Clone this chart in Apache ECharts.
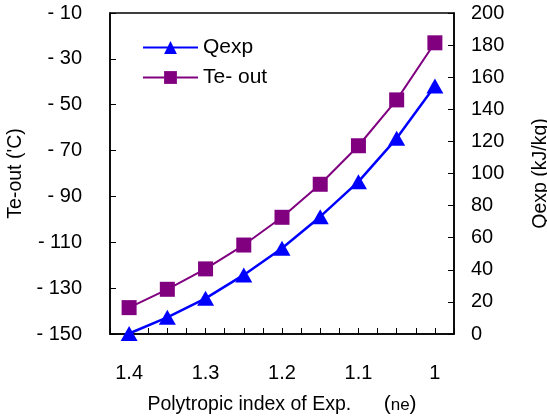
<!DOCTYPE html>
<html><head><meta charset="utf-8">
<script src="https://cdn.jsdelivr.net/npm/echarts@6/dist/echarts.min.js"></script>
<style>html,body{margin:0;padding:0;background:#fff}#c{width:547px;height:417px}</style>
</head><body><div id="c"></div>
<script>
const nValues = [1.4, 1.35, 1.3, 1.25, 1.2, 1.15, 1.1, 1.05, 1.0];
const qexp = [0.3, 10.4, 22.2, 36.8, 53.4, 73.1, 94.9, 121.9, 154.5];
const teOut = [-138.5, -130.5, -121.6, -111.2, -99.1, -84.7, -67.9, -47.9, -23.0];
const xTickLabels = ['1.4', '1.3', '1.2', '1.1', '1'];

const FONT = 'Liberation Sans';
const TICK = 20, NAME = 19.5;
const chart = echarts.init(document.getElementById('c'), null, {renderer: 'canvas'});
const axisCommon = {
  axisLine: {show: true, lineStyle: {color: '#000', width: 1.5}},
  axisTick: {show: true, inside: true, length: 6, lineStyle: {color: '#000', width: 1}},
  splitLine: {show: false},
  nameTextStyle: {color: '#000', fontFamily: FONT, fontSize: NAME},
  axisLabel: {color: '#000', fontFamily: FONT, fontSize: TICK}
};
chart.setOption({
  animation: false,
  backgroundColor: '#fff',
  grid: {left: 110, right: 93, top: 13, bottom: 83, containLabel: false, outerBoundsMode: 'none',
    show: true, borderColor: '#000', borderWidth: 1.5, backgroundColor: 'transparent'},
  legend: {
    orient: 'vertical', left: 142, top: 37, padding: 0, itemWidth: 55, itemHeight: 16, itemGap: 9,
    textStyle: {color: '#000', fontFamily: FONT, fontSize: 21, padding: 0},
    data: ['Qexp', 'Te- out']
  },
  xAxis: Object.assign({}, axisCommon, {
    type: 'value', inverse: true, min: 0.975, max: 1.425, interval: 0.025,
    name: '{a|Polytropic index of Exp.}{a|      }{p|(}{b|ne}{p|)}', nameLocation: 'middle', nameGap: 60,
    nameTextStyle: {rich: {
      a: {fontFamily: FONT, fontSize: NAME, color: '#000'},
      p: {fontFamily: FONT, fontSize: 21, color: '#000'},
      b: {fontFamily: FONT, fontSize: 17, color: '#000', padding: [2,0,0,0]}}},
    axisLabel: {color: '#000', fontFamily: FONT, fontSize: TICK, margin: 29,
      formatter: function (v) {
        const s = String(Math.round(v * 1000) / 1000);
        return xTickLabels.indexOf(s) >= 0 ? s : '';
      }}
  }),
  yAxis: [
    Object.assign({}, axisCommon, {
      type: 'value', min: -150, max: -10, interval: 20, position: 'left',
      name: "Te-out ('C)", nameLocation: 'middle', nameGap: 84,
      axisLabel: {color: '#000', fontFamily: FONT, fontSize: TICK, margin: 28,
        formatter: v => v < 0 ? '- ' + Math.abs(v) : String(v)}
    }),
    Object.assign({}, axisCommon, {
      type: 'value', min: 0, max: 200, interval: 20, position: 'right',
      name: 'Qexp (kJ/kg)', nameLocation: 'middle', nameGap: 77, nameRotate: 90,
      axisLabel: {color: '#000', fontFamily: FONT, fontSize: TICK, margin: 17}
    })
  ],
  series: [
    {
      name: 'Qexp', type: 'line', yAxisIndex: 1,
      data: nValues.map((n, i) => [n, qexp[i]]),
      symbol: 'triangle', symbolSize: [17, 15], showAllSymbol: true,
      itemStyle: {color: '#0000FF'}, lineStyle: {color: '#0000FF', width: 2.5},
      clip: false
    },
    {
      name: 'Te- out', type: 'line', yAxisIndex: 0,
      data: nValues.map((n, i) => [n, teOut[i]]),
      symbol: 'rect', symbolSize: 15, showAllSymbol: true,
      itemStyle: {color: '#800080'}, lineStyle: {color: '#800080', width: 2},
      clip: false
    }
  ]
});
</script></body></html>
